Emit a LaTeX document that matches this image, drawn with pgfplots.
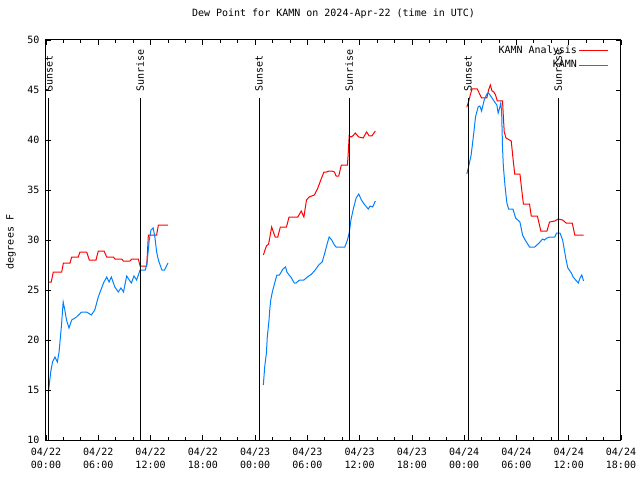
\documentclass[border=0pt]{standalone}
\usepackage{pgfplots}
\pgfplotsset{compat=1.18}
\usepackage{fontspec}
\setmainfont{DejaVu Sans Mono}
\definecolor{obsblue}{RGB}{0,128,255}
\begin{document}
\begin{tikzpicture}[font=\fontsize{10}{12}\selectfont]
\begin{axis}[
  at={(0,0)}, anchor=south west,
  scale only axis, width=575pt, height=400pt,
  xmin=0, xmax=66, ymin=10, ymax=50,
  xtick={0,6,...,66}, minor x tick num=2,
  xticklabels={04/22\\00:00,04/22\\06:00,04/22\\12:00,04/22\\18:00,04/23\\00:00,04/23\\06:00,04/23\\12:00,04/23\\18:00,04/24\\00:00,04/24\\06:00,04/24\\12:00,04/24\\18:00},
  xticklabel style={align=center, yshift=-5pt, font=\fontsize{10}{12.5}\selectfont},
  ytick={10,15,...,50},
  yticklabel style={xshift=-3pt},
  /pgf/number format/assume math mode=true,
  major tick length=5pt, minor tick length=3pt,
  tick style={black, line width=0.8pt},
  axis line style={line width=1pt},
  title={Dew Point for KAMN on 2024-Apr-22 (time in UTC)},
  title style={at={(0.5,1)}, anchor=base, yshift=17pt},
  ylabel={degrees F},
  ylabel style={at={(axis description cs:-0.061,0.495)}, anchor=center},
  legend cell align=right,
  legend plot pos=right,
  legend style={draw=none, fill=none, at={(rel axis cs:0.981,0.993)}, anchor=north east, row sep=1.5pt, inner sep=1pt},
  clip=false,
]
% KAMN Analysis (red)
\addplot[red, line width=1pt, legend image code/.code={\draw[red, line width=1pt] (0pt,0pt) -- (29pt,0pt);}] coordinates {
(0.27,25.8)(0.6,25.8)(0.84,26.8)(1.8,26.8)(2.0,27.7)(2.76,27.7)(2.95,28.3)(3.7,28.3)(3.9,28.8)(4.67,28.8)(4.97,28.0)(5.74,28.0)(6.0,28.9)(6.66,28.9)(6.97,28.3)(7.73,28.3)(7.92,28.1)(8.69,28.1)(8.88,27.9)(9.64,27.9)(9.84,28.1)(10.6,28.1)(10.8,27.4)(11.56,27.4)(11.75,30.5)(12.7,30.5)(12.9,31.5)(14.0,31.5)};
\addlegendentry{KAMN Analysis}
\addplot[obsblue, line width=1pt, legend image code/.code={\draw[obsblue, line width=1pt] (0pt,0pt) -- (29pt,0pt);}] coordinates {
(0.27,14.7)(0.54,16.8)(0.75,17.8)(1.03,18.3)(1.3,17.8)(1.5,18.8)(1.78,21.5)(1.97,23.8)(2.16,23.0)(2.35,22.0)(2.64,21.2)(2.95,22.0)(3.5,22.3)(4.1,22.8)(4.67,22.8)(5.2,22.5)(5.6,23.0)(6.0,24.3)(6.6,25.7)(6.97,26.3)(7.24,25.8)(7.5,26.3)(7.9,25.3)(8.3,24.8)(8.6,25.2)(8.9,24.8)(9.26,26.4)(9.56,26.0)(9.8,25.7)(10.1,26.4)(10.4,26.0)(10.8,27.0)(11.0,27.0)(11.4,27.0)(11.6,27.7)(11.85,30.0)(12.05,31.0)(12.3,31.2)(12.5,30.3)(12.7,28.8)(12.9,28.0)(13.3,27.0)(13.6,27.0)(14.0,27.7)};
\addlegendentry{KAMN}
\addplot[red, line width=1pt, forget plot] coordinates {
(24.95,28.5)(25.14,29.0)(25.3,29.4)(25.55,29.6)(25.7,30.3)(25.9,31.3)(26.1,30.8)(26.3,30.3)(26.6,30.3)(26.9,31.3)(27.6,31.3)(27.9,32.3)(28.9,32.3)(29.3,32.9)(29.6,32.3)(29.9,34.0)(30.2,34.3)(30.8,34.5)(31.2,35.2)(31.5,35.9)(31.9,36.8)(32.2,36.8)(32.5,36.9)(32.8,36.9)(33.1,36.8)(33.3,36.4)(33.6,36.4)(33.9,37.5)(34.6,37.5)(34.7,38.8)(34.8,40.4)(35.0,40.3)(35.2,40.4)(35.5,40.7)(35.9,40.3)(36.4,40.2)(36.8,40.8)(37.1,40.4)(37.4,40.4)(37.8,40.9)};
\addplot[obsblue, line width=1pt, forget plot] coordinates {
(24.95,15.5)(25.1,17.3)(25.3,18.7)(25.4,20.3)(25.6,22.0)(25.7,23.2)(25.8,24.0)(25.98,24.8)(26.25,25.7)(26.5,26.5)(26.8,26.5)(27.2,27.1)(27.5,27.3)(27.65,26.8)(27.9,26.5)(28.1,26.3)(28.5,25.7)(28.7,25.7)(29.1,26.0)(29.6,26.0)(30.0,26.3)(30.5,26.6)(30.9,27.0)(31.3,27.5)(31.7,27.8)(32.0,28.7)(32.3,29.7)(32.5,30.3)(32.8,30.0)(33.1,29.5)(33.3,29.3)(33.9,29.3)(34.3,29.3)(34.6,30.0)(34.8,30.7)(35.0,32.0)(35.3,33.2)(35.6,34.2)(35.9,34.6)(36.2,34.0)(36.6,33.5)(37.0,33.1)(37.2,33.4)(37.5,33.3)(37.8,33.9)};
\addplot[red, line width=1pt, forget plot] coordinates {
(48.3,43.3)(48.5,43.8)(48.7,44.5)(48.9,45.1)(49.5,45.1)(50.0,44.2)(50.6,44.2)(50.8,45.0)(51.0,45.5)(51.2,44.9)(51.4,44.8)(51.6,44.5)(51.8,43.9)(52.4,43.9)(52.5,42.3)(52.6,40.8)(52.8,40.2)(53.4,39.9)(53.6,38.2)(53.8,36.6)(54.4,36.6)(54.7,34.3)(54.8,33.6)(55.5,33.6)(55.7,32.4)(56.4,32.4)(56.8,30.9)(57.5,30.9)(57.8,31.8)(58.4,31.9)(58.8,32.1)(59.3,32.0)(59.7,31.7)(60.4,31.7)(60.7,30.5)(61.7,30.5)};
\addplot[obsblue, line width=1pt, forget plot] coordinates {
(48.3,36.6)(48.5,37.3)(48.8,38.5)(49.1,40.7)(49.3,42.3)(49.6,43.3)(49.8,43.4)(50.0,42.9)(50.3,44.0)(50.6,44.6)(50.8,44.7)(51.2,44.2)(51.5,43.8)(51.75,43.5)(51.9,42.7)(52.1,43.3)(52.2,43.7)(52.3,42.8)(52.4,39.3)(52.5,37.3)(52.7,35.3)(52.9,33.7)(53.1,33.1)(53.6,33.1)(53.9,32.2)(54.4,31.8)(54.7,30.5)(55.0,30.0)(55.5,29.3)(56.1,29.3)(56.6,29.7)(57.0,30.1)(57.2,30.0)(57.5,30.2)(57.8,30.3)(58.4,30.3)(58.6,30.7)(59.0,30.7)(59.3,30.0)(59.5,29.0)(59.7,28.0)(59.9,27.2)(60.3,26.7)(60.5,26.3)(60.8,26.0)(61.1,25.7)(61.3,26.2)(61.5,26.5)(61.7,25.9)};
% sunrise / sunset lines
\addplot[black, line width=1pt, forget plot] coordinates {(0.34,10)(0.34,44.2)};
\addplot[black, line width=1pt, forget plot] coordinates {(10.8,10)(10.8,44.2)};
\addplot[black, line width=1pt, forget plot] coordinates {(24.45,10)(24.45,44.2)};
\addplot[black, line width=1pt, forget plot] coordinates {(34.8,10)(34.8,44.2)};
\addplot[black, line width=1pt, forget plot] coordinates {(48.45,10)(48.45,44.2)};
\addplot[black, line width=1pt, forget plot] coordinates {(58.8,10)(58.8,44.2)};
\node[rotate=90, anchor=west, inner sep=0pt] at (axis cs:0.34,44.8) {Sunset};
\node[rotate=90, anchor=west, inner sep=0pt] at (axis cs:10.8,44.8) {Sunrise};
\node[rotate=90, anchor=west, inner sep=0pt] at (axis cs:24.45,44.8) {Sunset};
\node[rotate=90, anchor=west, inner sep=0pt] at (axis cs:34.8,44.8) {Sunrise};
\node[rotate=90, anchor=west, inner sep=0pt] at (axis cs:48.45,44.8) {Sunset};
\node[rotate=90, anchor=west, inner sep=0pt] at (axis cs:58.8,44.8) {Sunrise};
\end{axis}
\pgfresetboundingbox
\path[use as bounding box] (-46pt,-40pt) rectangle (594pt,440pt);
\end{tikzpicture}
\end{document}
